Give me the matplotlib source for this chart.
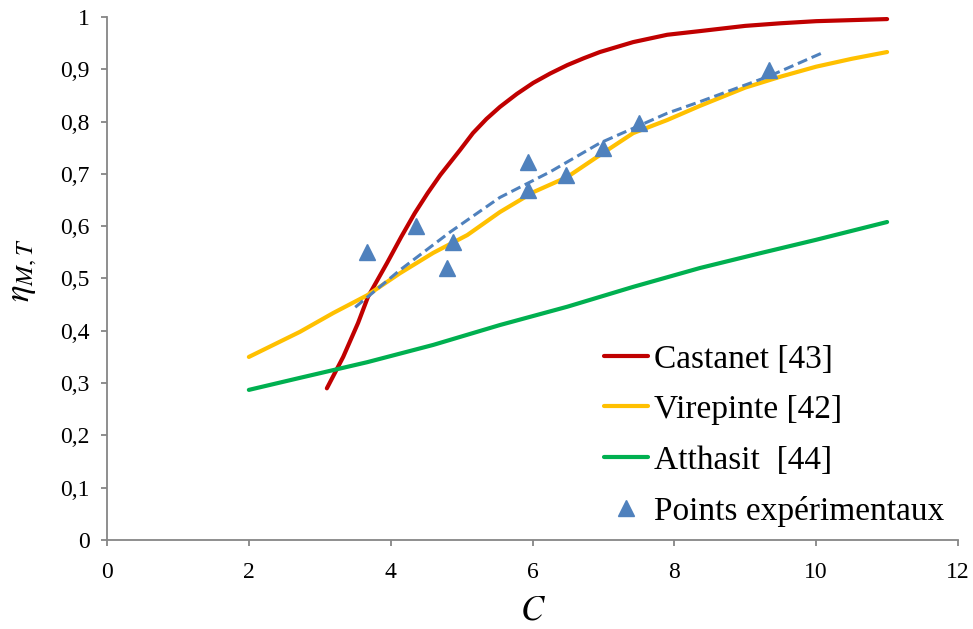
import matplotlib
matplotlib.use("Agg")
import matplotlib.pyplot as plt
from matplotlib.ticker import FuncFormatter

plt.rcParams['font.family'] = ['Liberation Serif', 'DejaVu Serif']
plt.rcParams['mathtext.fontset'] = 'stix'

# Castanet [43]
cast_x = [3.10, 3.33, 3.54, 3.68, 3.95, 4.15, 4.34, 4.52, 4.70, 4.98, 5.16, 5.35, 5.54, 5.78, 6.01, 6.25, 6.49, 6.72, 6.95, 7.42, 7.90, 8.36, 9.0, 9.5, 10.0, 10.5, 11.0]
cast_y = [0.29, 0.35, 0.415, 0.465, 0.53, 0.58, 0.625, 0.663, 0.698, 0.746, 0.778, 0.805, 0.828, 0.853, 0.874, 0.892, 0.908, 0.921, 0.933, 0.952, 0.966, 0.973, 0.983, 0.988, 0.992, 0.994, 0.996]

# Virepinte [42]
vire_x = [2.0, 2.3, 2.72, 3.19, 3.67, 4.13, 4.60, 5.08, 5.54, 6.01, 6.49, 6.95, 7.42, 7.90, 8.36, 9.0, 9.5, 10.0, 10.5, 11.0]
vire_y = [0.35, 0.37, 0.398, 0.434, 0.468, 0.51, 0.549, 0.583, 0.627, 0.665, 0.694, 0.736, 0.778, 0.803, 0.83, 0.865, 0.886, 0.905, 0.92, 0.933]

# Atthasit [44]
atth_x = [2.0, 2.72, 3.67, 4.60, 5.54, 6.49, 7.42, 8.36, 9.2, 10.0, 11.0]
atth_y = [0.287, 0.31, 0.34, 0.373, 0.411, 0.446, 0.484, 0.52, 0.548, 0.574, 0.608]

# Points expérimentaux
exp_x = [3.67, 4.35, 4.80, 4.88, 5.93, 5.93, 6.47, 7.00, 7.50, 9.34]
exp_y = [0.55, 0.60, 0.52, 0.57, 0.723, 0.669, 0.698, 0.75, 0.797, 0.899]

# Trend line (dashed)
trend_x = [3.50, 4.13, 4.84, 5.54, 6.25, 6.95, 7.90, 8.36, 9.34, 10.08]
trend_y = [0.445, 0.516, 0.589, 0.655, 0.704, 0.759, 0.816, 0.838, 0.887, 0.931]

x_ticks = [0, 2, 4, 6, 8, 10, 12]
y_ticks = [0, 0.1, 0.2, 0.3, 0.4, 0.5, 0.6, 0.7, 0.8, 0.9, 1.0]

fig = plt.figure(figsize=(9.73, 6.29), dpi=100)
ax = fig.add_axes([0.110, 0.1415, 0.8746, 0.8315])

ax.plot(cast_x, cast_y, color='#C00000', lw=3.0, label='Castanet [43]', solid_capstyle='round')
ax.plot(vire_x, vire_y, color='#FFC000', lw=3.0, label='Virepinte [42]', solid_capstyle='round')
ax.plot(atth_x, atth_y, color='#00B050', lw=3.0, label='Atthasit  [44]', solid_capstyle='round')
ax.plot(exp_x, exp_y, linestyle='none', marker='^', ms=12, color='#4F81BD', label='Points expérimentaux')
ax.plot(trend_x, trend_y, color='#4F81BD', lw=2.2, linestyle=(0, (3.3, 1.6)))

ax.set_xlim(0, 12)
ax.set_ylim(0, 1)
ax.set_xticks(x_ticks)
ax.set_yticks(y_ticks)
fmt = FuncFormatter(lambda v, p: ('%g' % v).replace('.', ','))
ax.xaxis.set_major_formatter(fmt)
ax.yaxis.set_major_formatter(fmt)

for s in ['top', 'right']:
    ax.spines[s].set_visible(False)
for s in ['left', 'bottom']:
    ax.spines[s].set_color('#868686')
    ax.spines[s].set_linewidth(1.3)
ax.tick_params(axis='both', colors='#868686', labelcolor='black', labelsize=17, length=4.5, width=1.3, direction='out')
ax.tick_params(axis='x', pad=11)
ax.tick_params(axis='y', pad=8)

ax.set_xlabel('$C$', fontsize=25)
ax.xaxis.set_label_coords(0.5, -0.105)
ax.set_ylabel(r'$\eta_{M,T}$', fontsize=25)
ax.yaxis.set_label_coords(-0.08, 0.515)

leg = ax.legend(loc='lower right', bbox_to_anchor=(1.0, 0.0), frameon=False, fontsize=24,
                handlelength=1.3, handletextpad=0.2, labelspacing=0.6, borderaxespad=0.0)

fig.savefig('out.png', dpi=100)
